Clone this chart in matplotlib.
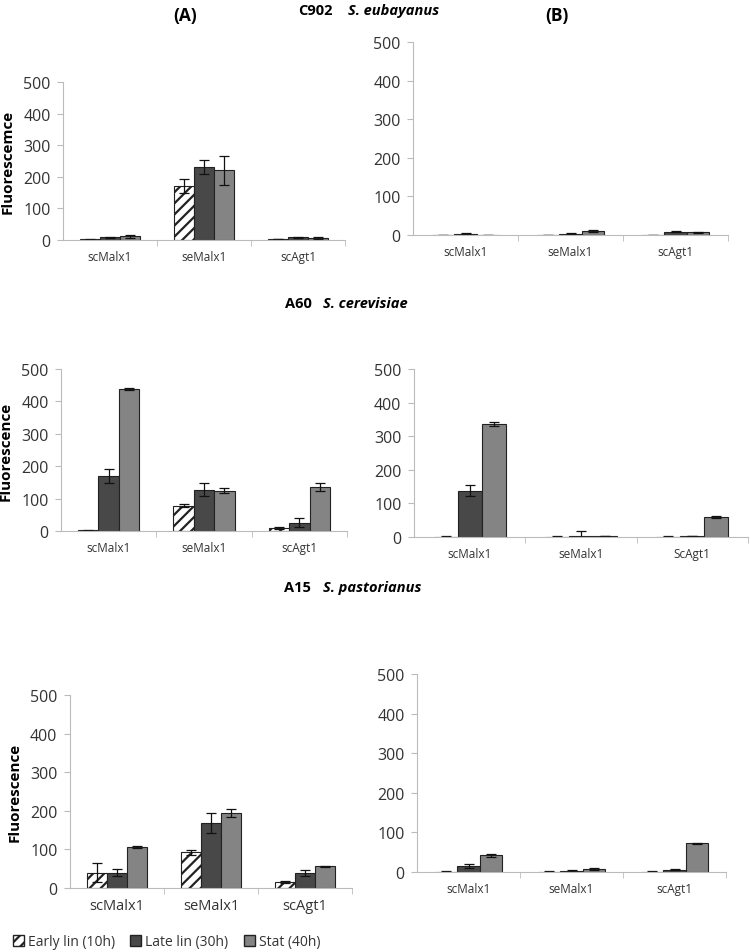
import matplotlib
matplotlib.use("Agg")
import matplotlib.pyplot as plt
import numpy as np
from matplotlib.patches import Patch

plt.rcParams.update({
    'font.family': ['Open Sans', 'DejaVu Sans'],
    'hatch.linewidth': 1.6,
})

W, H = 751, 953
series = ["Early lin (10h)", "Late lin (30h)", "Stat (40h)"]
genes = ["scMalx1", "seMalx1", "scAgt1"]
genes_b2 = ["scMalx1", "seMalx1", "ScAgt1"]

# values per panel: rows = gene, cols = series
a1_vals = [[2, 8, 12], [172, 232, 220], [3, 9, 6]]
a1_err = [[1, 2, 5], [22, 22, 45], [1, 2, 3]]
b1_vals = [[-1, 3, 0], [-1, 3, 10], [-1, 9, 7]]
b1_err = [[0, 1, 0], [0, 1, 2], [0, 2, 2]]
a2_vals = [[2, 170, 438], [78, 128, 124], [8, 26, 136]]
a2_err = [[2, 22, 2], [5, 20, 8], [3, 14, 12]]
b2_vals = [[-1, 138, 337], [0, 4, 2], [0, 2, 60]]
b2_err = [[3, 17, 6], [3, 14, 0], [3, 0, 2]]
a3_vals = [[40, 40, 106], [92, 168, 194], [15, 38, 56]]
a3_err = [[25, 10, 3], [6, 26, 10], [2, 8, 2]]
b3_vals = [[-1, 15, 42], [-1, 3, 8], [-1, 6, 72]]
b3_err = [[3, 4, 4], [3, 3, 2], [3, 2, 2]]

fig = plt.figure(figsize=(W / 100, H / 100), dpi=100)


def panel(x0, x1, ytop, ybot, vals, err, labels, ylabel=None, catsize=8.5):
    ax = fig.add_axes([x0 / W, 1 - ybot / H, (x1 - x0) / W, (ybot - ytop) / H])
    vals = np.array(vals)
    err = np.array(err)
    x = np.arange(3)
    bw = 0.215
    colors = ['white', '#484848', '#848484']
    for i in range(3):
        ax.bar(x + (i - 1) * bw, vals[:, i], bw, color=colors[i],
               edgecolor='#222222', linewidth=0.8,
               hatch='///' if i == 0 else None,
               yerr=err[:, i], capsize=3.5,
               error_kw={'elinewidth': 0.9, 'capthick': 0.9, 'ecolor': '#111111'})
    ax.set_ylim(0, 500)
    ax.set_xlim(-0.5, 2.5)
    ax.set_yticks([0, 100, 200, 300, 400, 500])
    ax.set_xticks(x)
    ax.set_xticklabels(labels, fontsize=catsize, color='#333333')
    ax.set_xticks([0.5, 1.5, 2.5], minor=True)
    ax.tick_params(axis='x', which='major', length=0, pad=7)
    ax.tick_params(axis='x', which='minor', length=4, color='#bbbbbb')
    ax.tick_params(axis='y', length=4, color='#bbbbbb', labelsize=11.5,
                   labelcolor='#333333', pad=5)
    for s in ['top', 'right']:
        ax.spines[s].set_visible(False)
    for s in ['left', 'bottom']:
        ax.spines[s].set_color('#bbbbbb')
    if ylabel:
        ax.set_ylabel(ylabel, fontsize=11, fontweight='bold', labelpad=6)
    return ax


panel(63, 345, 83, 241, a1_vals, a1_err, genes, 'Fluorescemce')
panel(413, 728, 43, 236, b1_vals, b1_err, genes)
panel(61, 347, 370, 532, a2_vals, a2_err, genes, 'Fluorescence')
panel(414, 748, 370, 538, b2_vals, b2_err, genes_b2)
panel(70, 352, 696, 889, a3_vals, a3_err, genes, 'Fluorescence', catsize=10.5)
panel(417, 726, 675, 873, b3_vals, b3_err, genes)

tkw = dict(fontsize=12.5, fontweight='bold', ha='center', va='center')
fig.text(185 / W, 1 - 16 / H, '(A)', **tkw)
fig.text(557 / W, 1 - 16 / H, '(B)', **tkw)
ttl = dict(fontsize=10.5, fontweight='bold', va='center')
fig.text(315 / W, 1 - 11 / H, 'C902', ha='center', **ttl)
fig.text(348 / W, 1 - 11 / H, 'S. eubayanus', ha='left', style='italic', **ttl)
fig.text(298 / W, 1 - 304 / H, 'A60', ha='center', **ttl)
fig.text(323 / W, 1 - 304 / H, 'S. cerevisiae', ha='left', style='italic', **ttl)
fig.text(297 / W, 1 - 588 / H, 'A15', ha='center', **ttl)
fig.text(323 / W, 1 - 588 / H, 'S. pastorianus', ha='left', style='italic', **ttl)

handles = [Patch(facecolor='white', edgecolor='#222222', hatch='///'),
           Patch(facecolor='#484848', edgecolor='#222222'),
           Patch(facecolor='#848484', edgecolor='#222222')]
fig.legend(handles, series, loc='center left', bbox_to_anchor=(0 / W, 1 - 943 / H),
           ncol=3, frameon=False, fontsize=10, handlelength=0.8, handleheight=0.8,
           handletextpad=0.3, columnspacing=1.1, labelcolor='#333333')

fig.savefig('out.png', dpi=100)
